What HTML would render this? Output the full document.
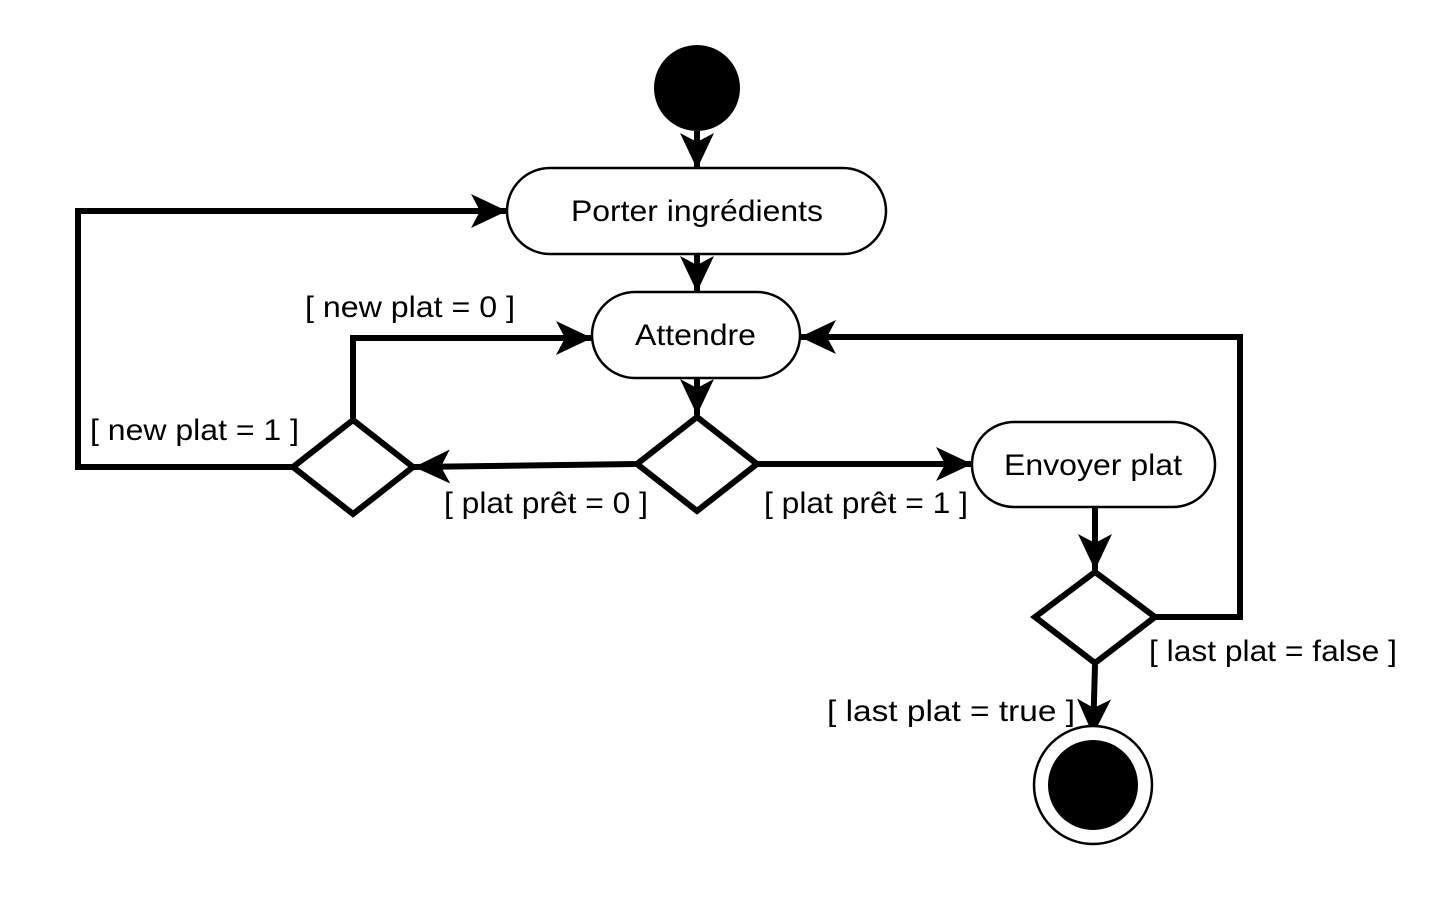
<!DOCTYPE html>
<html><head><meta charset="utf-8"><style>body{margin:0;background:#fff}svg{display:block}text{font-family:"Liberation Sans",sans-serif;font-size:30px;fill:#000}</style></head><body>
<svg width="1432" height="910" viewBox="0 0 1432 910">
<defs><marker id="a" markerUnits="userSpaceOnUse" markerWidth="44" markerHeight="44" viewBox="0 0 44 44" refX="40" refY="22" orient="auto"><path d="M4 5 L40 22 L4 39 L13 22 Z" fill="#000"/></marker></defs>
<circle cx="697" cy="88" r="43" fill="#000"/>
<g fill="none" stroke="#000" stroke-width="6">
<line x1="697" y1="131" x2="697" y2="169" marker-end="url(#a)"/>
<line x1="697" y1="254" x2="697" y2="292" marker-end="url(#a)"/>
<line x1="697" y1="378" x2="697" y2="415" marker-end="url(#a)"/>
<line x1="637" y1="464" x2="414" y2="467" marker-end="url(#a)"/>
<polyline points="353,418 353,338 592,338" marker-end="url(#a)"/>
<polyline points="293,467 78,467 78,211 507,211" marker-end="url(#a)"/>
<line x1="757" y1="464" x2="972" y2="464" marker-end="url(#a)"/>
<line x1="1095" y1="507" x2="1095" y2="570" marker-end="url(#a)"/>
<polyline points="1155,617 1240,617 1240,337 800,337" marker-end="url(#a)"/>
<line x1="1095" y1="665" x2="1093" y2="735" marker-end="url(#a)"/>
<polygon points="697,417 757,464 697,511 637,464"/>
<polygon points="353,420 413,467 353,514 293,467"/>
<polygon points="1095,572 1155,617 1095,663 1035,617"/>
</g>
<g fill="#fff" stroke="#000" stroke-width="2.5">
<rect x="507" y="168" width="379" height="86" rx="43"/>
<rect x="592" y="292" width="208" height="86" rx="43"/>
<rect x="972" y="422" width="243" height="85" rx="42"/>
<circle cx="1093" cy="785" r="59"/>
</g>
<circle cx="1093" cy="785" r="45" fill="#000"/>
<text x="571" y="221" textLength="252" lengthAdjust="spacingAndGlyphs">Porter ingrédients</text>
<text x="635" y="345" textLength="121" lengthAdjust="spacingAndGlyphs">Attendre</text>
<text x="1004" y="475" textLength="178" lengthAdjust="spacingAndGlyphs">Envoyer plat</text>
<text x="305" y="317" textLength="210" lengthAdjust="spacingAndGlyphs">[ new plat = 0 ]</text>
<text x="90" y="440" textLength="209" lengthAdjust="spacingAndGlyphs">[ new plat = 1 ]</text>
<text x="444" y="513" textLength="204" lengthAdjust="spacingAndGlyphs">[ plat prêt = 0 ]</text>
<text x="764" y="513" textLength="204" lengthAdjust="spacingAndGlyphs">[ plat prêt = 1 ]</text>
<text x="1149" y="661" textLength="248" lengthAdjust="spacingAndGlyphs">[ last plat = false ]</text>
<text x="827" y="721" textLength="248" lengthAdjust="spacingAndGlyphs">[ last plat = true ]</text>
</svg>
</body></html>
